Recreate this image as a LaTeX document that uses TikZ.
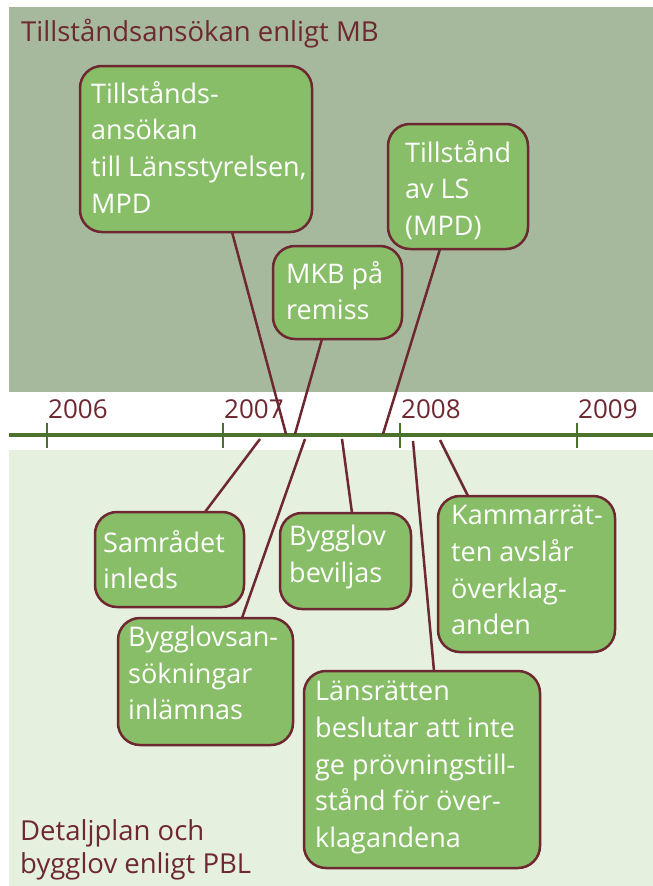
\documentclass[tikz,border=0pt]{standalone}
\usepackage{fontspec}
\setmainfont{Open Sans}
\definecolor{topband}{RGB}{166,185,156}
\definecolor{botband}{RGB}{230,240,223}
\definecolor{boxgreen}{RGB}{136,190,104}
\definecolor{darkred}{RGB}{110,40,50}
\definecolor{tlgreen}{RGB}{75,115,45}
\tikzset{
  box/.style={draw=darkred, line width=2.5pt, fill=boxgreen, rounded corners=22pt, inner sep=0pt, shape=rectangle},
  boxtext/.style={text=white, align=left, anchor=north west, inner sep=0pt,
    font=\fontsize{27}{36.6}\selectfont, execute at begin node={\rule{0pt}{24pt}}},
  headtext/.style={text=darkred, align=left, anchor=north west, inner sep=0pt,
    font=\fontsize{27.5}{33}\selectfont, execute at begin node={\rule{0pt}{24pt}}},
  yeartext/.style={text=darkred, anchor=base west, inner sep=0pt, font=\fontsize{26}{30}\selectfont},
  conn/.style={draw=darkred, line width=2.5pt},
  tick/.style={draw=tlgreen, line width=2pt}
}
\begin{document}
\begin{tikzpicture}[x=1pt,y=-1pt]
\useasboundingbox (0,0) rectangle (653,886);
\fill[white] (0,0) rectangle (653,886);
\fill[topband] (9,7) rectangle (653,392);
\fill[botband] (9,450) rectangle (653,886);

% headings
\node[headtext] (h1) at (21,17) {Tillståndsansökan enligt MB};
\node[headtext] (h2) at (20,819) {Detaljplan och\\bygglov enligt PBL};

% timeline
\coordinate (tl0) at (9,435);
\coordinate (tl1) at (653,435);
\draw[draw=tlgreen, line width=4pt] (tl0) -- (tl1);
\foreach \x/\y/\n in {47/2006/y6, 223/2007/y7, 400/2008/y8, 577/2009/y9}{
  \coordinate (\n a) at (\x,423);
  \coordinate (\n b) at (\x,448);
  \draw[tick] (\n a) -- (\n b);
  \node[yeartext] (\n) at (\x+1,418) {\y};
}

% connector end points
\coordinate (c1) at (232,232); \coordinate (t1) at (286,434);
\coordinate (c2) at (322,339); \coordinate (t2) at (295,434);
\coordinate (c3) at (440,249); \coordinate (t3) at (383,434);
\coordinate (s4) at (260,439); \coordinate (c4) at (205,512);
\coordinate (s5) at (342,439); \coordinate (c5) at (352,513);
\coordinate (s6) at (305,439); \coordinate (c6) at (242,618);
\coordinate (s7) at (440,440); \coordinate (c7) at (468,496);
\coordinate (s8) at (413,441); \coordinate (c8) at (434,671);
\foreach \a/\b in {c1/t1, c2/t2, c3/t3, s4/c4, s5/c5, s6/c6, s7/c7, s8/c8}
  \draw[conn] (\a) -- (\b);

% boxes
\node[box, minimum width=232pt, minimum height=166pt] (b1) at (196,149) {};
\node[box, minimum width=129pt, minimum height=93pt] (b2) at (337.5,292.5) {};
\node[box, minimum width=140pt, minimum height=125pt] (b3) at (458,186.5) {};
\node[box, minimum width=149pt, minimum height=95pt] (b4) at (169.5,559.5) {};
\node[box, minimum width=131pt, minimum height=96pt] (b5) at (345.5,561) {};
\node[box, minimum width=175pt, minimum height=127pt] (b6) at (205.5,681.5) {};
\node[box, minimum width=177pt, minimum height=156pt] (b7) at (526.5,574) {};
\node[box, minimum width=236pt, minimum height=197pt] (b8) at (422,769.5) {};

% box texts
\node[boxtext] (b1t) at (91,81) {Tillstånds-\\ansökan\\till Länsstyrelsen,\\MPD};
\node[boxtext] (b2t) at (286,261) {MKB på\\remiss};
\node[boxtext] (b3t) at (405,140) {Tillstånd\\av LS\\(MPD)};
\node[boxtext] (b4t) at (103,530) {Samrådet\\inleds};
\node[boxtext] (b5t) at (289,525) {Bygglov\\beviljas};
\node[boxtext] (b6t) at (128,626) {Bygglovsan-\\sökningar\\inlämnas};
\node[boxtext] (b7t) at (451,505) {Kammarrät-\\ten avslår\\överklag-\\anden};
\node[boxtext] (b8t) at (315,681) {Länsrätten\\beslutar att inte\\ge prövningstill-\\stånd för över-\\klagandena};
\end{tikzpicture}
\end{document}
